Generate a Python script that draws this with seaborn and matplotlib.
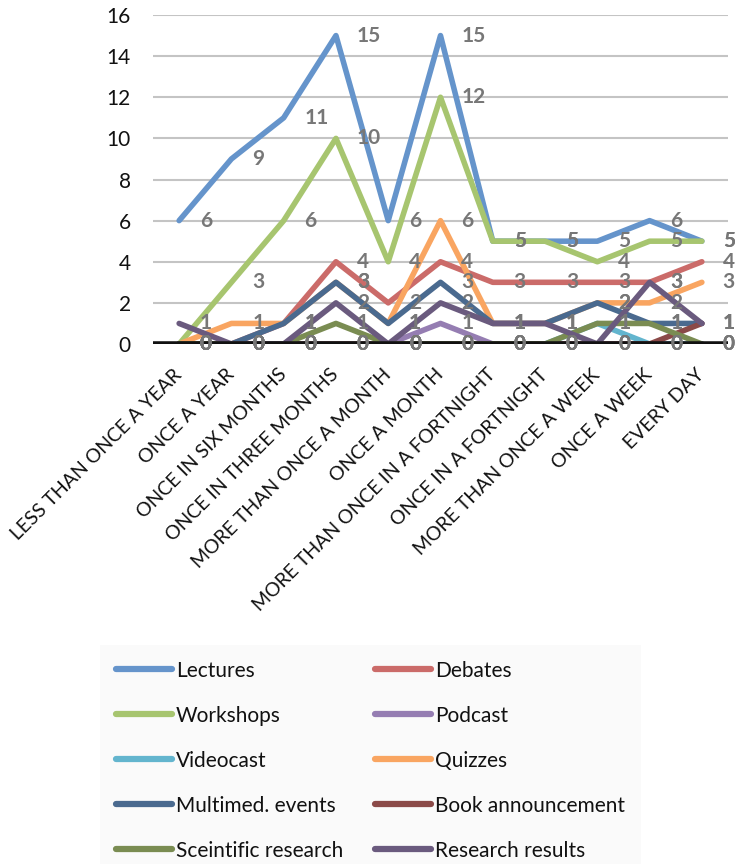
import numpy as np
import pandas as pd
import seaborn as sns
import matplotlib
matplotlib.use("Agg")
import matplotlib.pyplot as plt

categories = ["LESS THAN ONCE A YEAR", "ONCE A YEAR", "ONCE IN SIX MONTHS",
              "ONCE IN THREE MONTHS", "MORE THAN ONCE A MONTH", "ONCE A MONTH",
              "MORE THAN ONCE IN A FORTNIGHT", "ONCE IN A FORTNIGHT",
              "MORE THAN ONCE A WEEK", "ONCE A WEEK", "EVERY DAY"]

lectures = [6, 9, 11, 15, 6, 15, 5, 5, 5, 6, 5]
debates = [0, 0, 1, 4, 2, 4, 3, 3, 3, 3, 4]
workshops = [0, 3, 6, 10, 4, 12, 5, 5, 4, 5, 5]
podcast = [0, 0, 0, 0, 0, 1, 0, 0, 0, 0, 0]
videocast = [0, 0, 0, 0, 0, 0, 0, 0, 1, 0, 0]
quizzes = [0, 1, 1, 3, 1, 6, 1, 1, 2, 2, 3]
multimed = [0, 0, 1, 3, 1, 3, 1, 1, 2, 1, 1]
book = [0, 0, 0, 0, 0, 0, 0, 0, 0, 0, 1]
scientific = [0, 0, 0, 1, 0, 0, 0, 0, 1, 1, 0]
research = [1, 0, 0, 2, 0, 2, 1, 1, 0, 3, 1]

series_names = ["Lectures", "Debates", "Workshops", "Podcast", "Videocast",
                "Quizzes", "Multimed. events", "Book announcement",
                "Sceintific research", "Research results"]
series_values = [lectures, debates, workshops, podcast, videocast,
                 quizzes, multimed, book, scientific, research]
colors = ["#6594CB", "#CB6B69", "#A7C56F", "#957DB2", "#63B5CE",
          "#F9A561", "#4A6A8F", "#8B4A48", "#7A8C52", "#6A5A7E"]

rows = []
for name, vals in zip(series_names, series_values):
    for i, v in enumerate(vals):
        rows.append({"series": name, "x": i, "value": v})
df = pd.DataFrame(rows)

sns.set_theme(style="white")
plt.rcParams["font.family"] = ["Lato", "DejaVu Sans"]

fig = plt.figure(figsize=(7.35, 8.64), dpi=100)
ax = fig.add_axes([153/735, 1-344/864, (728-153)/735, (344-15)/864])

sns.lineplot(data=df, x="x", y="value", hue="series", hue_order=series_names,
             palette=colors, linewidth=4.0, sort=False, ax=ax, legend=True,
             estimator=None)
for ln in ax.get_lines():
    ln.set_solid_joinstyle("round")
    ln.set_solid_capstyle("round")

# data labels
for name, vals in zip(series_names, series_values):
    for i, v in enumerate(vals):
        ax.annotate(str(v), xy=(i, v), xytext=(15, 0), textcoords="offset points",
                    ha="left", va="center", fontsize=15, fontweight="bold",
                    color="#777777", zorder=10, annotation_clip=False)

ax.axhline(0, color="#111111", linewidth=4, zorder=5)

ax.set_xlim(-0.5, 10.5)
ax.set_ylim(0, 16)
ax.set_yticks(np.arange(0, 17, 2))
ax.yaxis.grid(True, color="#C4C4C4", linewidth=1.5)
ax.set_axisbelow(True)
for s in ax.spines.values():
    s.set_visible(False)
ax.set_xlabel("")
ax.set_ylabel("")
ax.set_xticks(range(len(categories)))
ax.set_xticklabels(categories, rotation=45, ha="right", va="center",
                   rotation_mode="anchor", fontsize=14, color="#111111")
ax.tick_params(axis="x", length=0, pad=20)
ax.tick_params(axis="y", length=0, pad=16, labelsize=15, labelcolor="#111111")

handles, labels = ax.get_legend_handles_labels()
ax.get_legend().remove()
order = [0, 2, 4, 6, 8, 1, 3, 5, 7, 9]
hs = [handles[i] for i in order]
ls = [labels[i] for i in order]
leg = fig.legend(hs, ls, loc="upper left", bbox_to_anchor=(100/735, 1-645/864),
                 ncol=2, frameon=True, fontsize=15, handlelength=2.7,
                 handletextpad=0.2, columnspacing=1.5, labelspacing=1.2,
                 borderpad=0.75, borderaxespad=0)
leg.get_frame().set_facecolor("#F9F9F9")
leg.get_frame().set_edgecolor("none")
leg.get_frame().set_boxstyle("square", pad=0)
for h in leg.legend_handles:
    h.set_linewidth(4.5)
    h.set_solid_capstyle("round")
for t in leg.get_texts():
    t.set_color("#111111")

fig.savefig("out.png", dpi=100, facecolor="white")
